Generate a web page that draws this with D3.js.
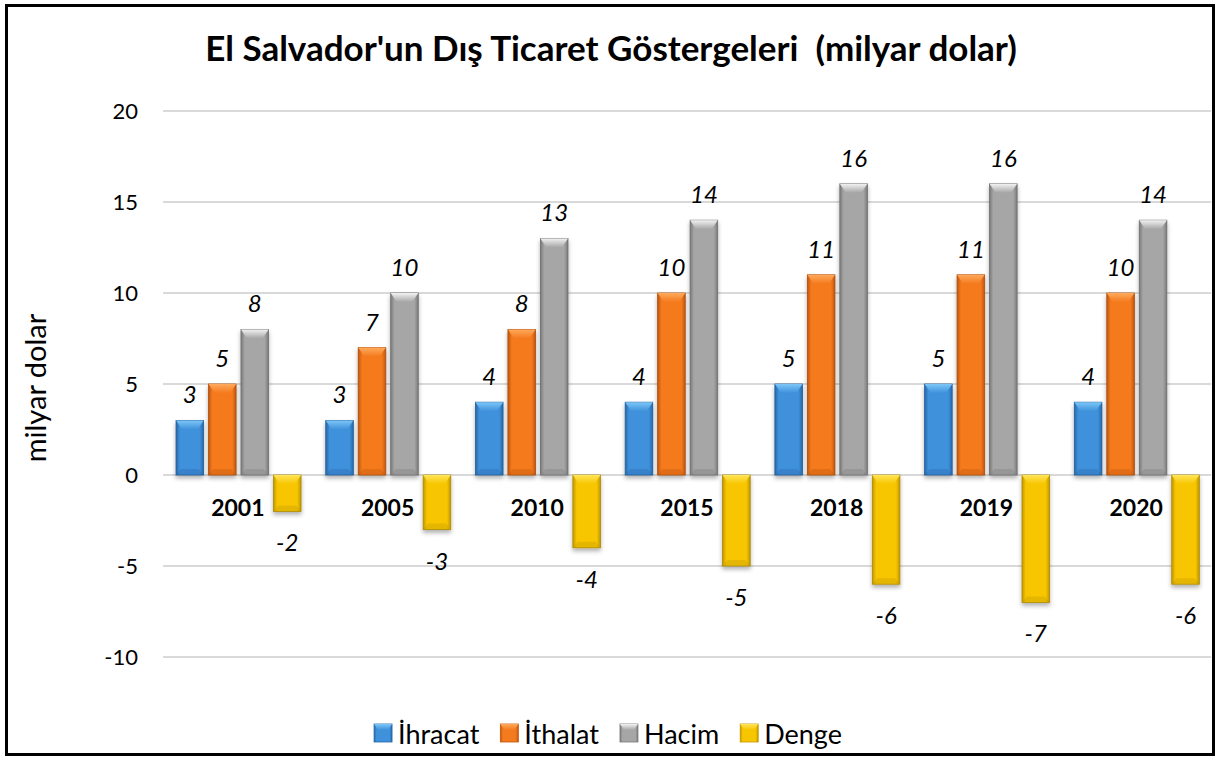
<!DOCTYPE html>
<html>
<head>
  <title>El Salvador Dış Ticaret</title>
  <script src="https://d3js.org/d3.v7.min.js"></script>
  <style>
    body {
      margin: 0;
      background: #ffffff;
      font-family: 'Lato', 'Open Sans', sans-serif;
    }
  </style>
</head>
<body>
  <div id="chart"></div>

  <script>
    // Chart data
    const years = ["2001", "2005", "2010", "2015", "2018", "2019", "2020"];
    const seriesNames = ["İhracat", "İthalat", "Hacim", "Denge"];
    const ihracat = [3, 3, 4, 4, 5, 5, 4];
    const ithalat = [5, 7, 8, 10, 11, 11, 10];
    const hacim = [8, 10, 13, 14, 16, 16, 14];
    const denge = [-2, -3, -4, -5, -6, -7, -6];
    const yTicks = [-10, -5, 0, 5, 10, 15, 20];

    const seriesValues = [ihracat, ithalat, hacim, denge];

    // colors per series: edge, main, highlight
    const palette = {
      "İhracat": { edge: "#2767a8", main: "#3f91dc", light: "#7cc6f7" },
      "İthalat": { edge: "#c0560e", main: "#f47a1e", light: "#ffaa5c" },
      "Hacim": { edge: "#7a7a7a", main: "#a6a6a6", light: "#f2f2f2" },
      "Denge": { edge: "#c09800", main: "#f8c600", light: "#ffe55a" }
    };

    const width = 1218;
    const height = 760;

    const svg = d3.select("#chart")
      .append("svg")
      .attr("width", width)
      .attr("height", height);

    const defs = svg.append("defs");

    // Drop shadow for the bars
    const shadow = defs.append("filter")
      .attr("id", "shadow")
      .attr("x", "-30%").attr("y", "-10%")
      .attr("width", "160%").attr("height", "130%");
    shadow.append("feDropShadow")
      .attr("dx", 0)
      .attr("dy", 3)
      .attr("stdDeviation", 2)
      .attr("flood-color", "#000")
      .attr("flood-opacity", 0.3);

    // Horizontal gradients that give the bevel look
    seriesNames.forEach(function(name, i) {
      const c = palette[name];
      const g = defs.append("linearGradient")
        .attr("id", "grad-" + i)
        .attr("x1", "0%").attr("x2", "100%")
        .attr("y1", "0%").attr("y2", "0%");
      [
        { offset: "0%", color: c.edge },
        { offset: "14%", color: c.main },
        { offset: "50%", color: c.main },
        { offset: "86%", color: c.main },
        { offset: "100%", color: c.edge }
      ].forEach(function(s) {
        g.append("stop").attr("offset", s.offset).attr("stop-color", s.color);
      });

      const cap = defs.append("linearGradient")
        .attr("id", "cap-" + i)
        .attr("x1", "0%").attr("x2", "0%")
        .attr("y1", "0%").attr("y2", "100%");
      cap.append("stop").attr("offset", "0%").attr("stop-color", c.light);
      cap.append("stop").attr("offset", "100%").attr("stop-color", c.main);
    });

    // Outer frame
    svg.append("rect")
      .attr("x", 6.5)
      .attr("y", 5.5)
      .attr("width", 1207)
      .attr("height", 749)
      .attr("fill", "#fff")
      .attr("stroke", "#000")
      .attr("stroke-width", 3);

    // Title
    svg.append("text")
      .attr("x", 611)
      .attr("y", 61)
      .attr("text-anchor", "middle")
      .attr("font-size", 35)
      .attr("font-weight", "bold")
      .attr("fill", "#000")
      .attr("xml:space", "preserve")
      .text("El Salvador'un Dış Ticaret Göstergeleri  (milyar dolar)");

    // Scales
    const x0 = d3.scaleBand()
      .domain(years)
      .range([163, 1211])
      .padding(0);

    const x1 = d3.scaleBand()
      .domain(seriesNames)
      .range([x0.bandwidth() * 0.087, x0.bandwidth() * 0.922])
      .paddingInner(0.15)
      .paddingOuter(0);

    const y = d3.scaleLinear()
      .domain([-10, 20])
      .range([657, 111]);

    // Grid lines and y tick labels
    svg.append("g")
      .selectAll("line")
      .data(yTicks)
      .join("line")
      .attr("x1", 163)
      .attr("x2", 1211)
      .attr("y1", function(d) { return y(d); })
      .attr("y2", function(d) { return y(d); })
      .attr("stroke", "#d9d9d9")
      .attr("stroke-width", 2);

    svg.append("g")
      .selectAll("text")
      .data(yTicks)
      .join("text")
      .attr("x", 138)
      .attr("y", function(d) { return y(d) + 8; })
      .attr("text-anchor", "end")
      .attr("font-size", 22)
      .attr("fill", "#000")
      .text(function(d) { return d; });

    // Y axis title
    svg.append("text")
      .attr("transform", "translate(46,388) rotate(-90)")
      .attr("text-anchor", "middle")
      .attr("font-size", 29)
      .attr("fill", "#000")
      .text("milyar dolar");

    // Flatten data into bars
    const bars = [];
    years.forEach(function(year, yi) {
      seriesNames.forEach(function(name, si) {
        bars.push({ year: year, name: name, si: si, value: seriesValues[si][yi] });
      });
    });

    const bw = x1.bandwidth();

    const barG = svg.append("g")
      .selectAll("g")
      .data(bars)
      .join("g")
      .attr("transform", function(d) {
        return "translate(" + (x0(d.year) + x1(d.name)) + ",0)";
      });

    barG.append("rect")
      .attr("x", 0)
      .attr("y", function(d) { return Math.min(y(d.value), y(0)); })
      .attr("width", bw)
      .attr("height", function(d) { return Math.abs(y(d.value) - y(0)); })
      .attr("fill", function(d) { return "url(#grad-" + d.si + ")"; })
      .attr("stroke", function(d) { return d3.color(palette[d.name].edge).darker(0.3); })
      .attr("stroke-width", 0.8)
      .attr("filter", "url(#shadow)");

    // bevel cap at the far end of each bar
    barG.append("path")
      .attr("d", function(d) {
        const h = Math.min(9, Math.abs(y(d.value) - y(0)) / 2);
        const t = d.value >= 0 ? y(d.value) : y(0);
        return "M0," + t + "L" + bw + "," + t + "L" + (bw * 0.78) + "," + (t + h) +
          "L" + (bw * 0.22) + "," + (t + h) + "Z";
      })
      .attr("fill", function(d) { return "url(#cap-" + d.si + ")"; });

    // subtle darker foot of each bar
    barG.append("path")
      .attr("d", function(d) {
        const h = Math.min(6, Math.abs(y(d.value) - y(0)) / 3);
        const b = d.value >= 0 ? y(0) : y(d.value);
        return "M0," + b + "L" + bw + "," + b + "L" + (bw * 0.82) + "," + (b - h) +
          "L" + (bw * 0.18) + "," + (b - h) + "Z";
      })
      .attr("fill", function(d) { return palette[d.name].edge; })
      .attr("opacity", 0.35);

    // Value labels
    barG.append("text")
      .attr("x", bw / 2)
      .attr("y", function(d) {
        return d.value >= 0 ? y(d.value) - 17 : y(d.value) + 40;
      })
      .attr("text-anchor", "middle")
      .attr("font-size", 24)
      .attr("font-style", "italic")
      .attr("fill", "#000")
      .text(function(d) { return d.value; });

    // Category labels next to the zero line
    svg.append("g")
      .selectAll("text")
      .data(years)
      .join("text")
      .attr("x", function(d) { return x0(d) + x0.bandwidth() / 2; })
      .attr("y", 516)
      .attr("text-anchor", "middle")
      .attr("font-size", 23)
      .attr("font-weight", "bold")
      .attr("fill", "#000")
      .text(function(d) { return d; });

    // Legend
    const legend = svg.append("g");
    const items = legend.selectAll("g")
      .data(seriesNames)
      .join("g");

    items.append("text")
      .attr("x", 24)
      .attr("y", 744)
      .attr("font-size", 27)
      .attr("fill", "#000")
      .text(function(d) { return d; });

    let cursor = 0;
    items.each(function(d) {
      const w = d3.select(this).select("text").node().getComputedTextLength();
      d3.select(this).attr("transform", "translate(" + cursor + ",0)");
      cursor += 24 + w + 21;
    });
    const total = cursor - 21;
    legend.attr("transform", "translate(" + (608 - total / 2) + ",0)");

    items.append("rect")
      .attr("x", 0)
      .attr("y", 724)
      .attr("width", 18)
      .attr("height", 18)
      .attr("fill", function(d, i) { return "url(#grad-" + i + ")"; })
      .attr("stroke", function(d) { return palette[d].edge; })
      .attr("stroke-width", 0.8);

    items.append("path")
      .attr("d", "M0,724L18,724L14,730L4,730Z")
      .attr("fill", function(d, i) { return "url(#cap-" + i + ")"; });
  </script>
</body>
</html>
